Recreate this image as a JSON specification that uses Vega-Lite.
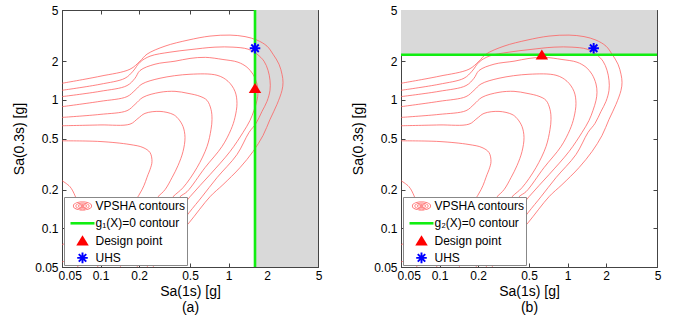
{
"$schema": "https://vega.github.io/schema/vega-lite/v6.json",
"padding": {"left": 12, "top": 3, "right": 2, "bottom": 2},
"background": "white",
"config": {
  "font": "Liberation Sans",
  "view": {"stroke": "#444", "strokeWidth": 1},
  "axis": {"grid": false, "labelFontSize": 12, "labelColor": "#000", "titleFontSize": 14, "titleFontWeight": "normal", "titleColor": "#000", "domainColor": "#444", "tickColor": "#444", "tickSize": -4, "labelPadding": 8, "labelFont": "Liberation Sans", "titleFont": "Liberation Sans"},
  "legend": {"title": null, "orient": "bottom-left", "offset": 2, "padding": 1, "fillColor": "white", "strokeColor": "#888", "symbolSize": 256, "symbolStrokeWidth": 0, "symbolOffset": 9.5, "labelOffset": 5, "labelFontSize": 12, "labelColor": "#000", "labelFont": "Liberation Sans", "rowPadding": 3.3, "symbolOpacity": 1}
},
"datasets": {
  "contours": [
    {"level":1,"i":0,"x":0.05,"y":1.345},{"level":1,"i":1,"x":0.0991,"y":1.525},{"level":1,"i":2,"x":0.1699,"y":1.73},{"level":1,"i":3,"x":0.2034,"y":1.998},{"level":1,"i":4,"x":0.2307,"y":2.266},{"level":1,"i":5,"x":0.3189,"y":2.617},{"level":1,"i":6,"x":0.4823,"y":2.915},{"level":1,"i":7,"x":0.7167,"y":3.133},{"level":1,"i":8,"x":1.027,"y":3.189},{"level":1,"i":9,"x":1.345,"y":3.104},{"level":1,"i":10,"x":1.669,"y":2.915},{"level":1,"i":11,"x":1.998,"y":2.617},{"level":1,"i":12,"x":2.226,"y":2.266},{"level":1,"i":13,"x":2.479,"y":1.893},{"level":1,"i":14,"x":2.617,"y":1.581},{"level":1,"i":15,"x":2.665,"y":1.369},{"level":1,"i":16,"x":2.617,"y":1.186},{"level":1,"i":17,"x":2.391,"y":0.9218},{"level":1,"i":18,"x":2.109,"y":0.7039},{"level":1,"i":19,"x":1.859,"y":0.5274},{"level":1,"i":20,"x":1.553,"y":0.3957},{"level":1,"i":21,"x":1.229,"y":0.2967},{"level":1,"i":22,"x":0.905,"y":0.2186},{"level":1,"i":23,"x":0.7167,"y":0.1762},{"level":1,"i":24,"x":0.4911,"y":0.1103},{"level":1,"i":25,"x":0.3489,"y":0.0743},{"level":1,"i":26,"x":0.257,"y":0.05},
    {"level":2,"i":0,"x":0.05,"y":1.186},{"level":2,"i":1,"x":0.0991,"y":1.321},{"level":2,"i":2,"x":0.1553,"y":1.472},{"level":2,"i":3,"x":0.1793,"y":1.669},{"level":2,"i":4,"x":0.2034,"y":1.962},{"level":2,"i":5,"x":0.2435,"y":2.186},{"level":2,"i":6,"x":0.3489,"y":2.349},{"level":2,"i":7,"x":0.5,"y":2.457},{"level":2,"i":8,"x":0.784,"y":2.57},{"level":2,"i":9,"x":1.084,"y":2.57},{"level":2,"i":10,"x":1.419,"y":2.479},{"level":2,"i":11,"x":1.669,"y":2.266},{"level":2,"i":12,"x":1.893,"y":1.998},{"level":2,"i":13,"x":2.034,"y":1.699},{"level":2,"i":14,"x":2.109,"y":1.419},{"level":2,"i":15,"x":2.109,"y":1.186},{"level":2,"i":16,"x":1.998,"y":0.9727},{"level":2,"i":17,"x":1.826,"y":0.8127},{"level":2,"i":18,"x":1.639,"y":0.6551},{"level":2,"i":19,"x":1.445,"y":0.5569},{"level":2,"i":20,"x":1.164,"y":0.3749},{"level":2,"i":21,"x":0.8127,"y":0.2479},{"level":2,"i":22,"x":0.6206,"y":0.1762},{"level":2,"i":23,"x":0.4911,"y":0.1321},{"level":2,"i":24,"x":0.3489,"y":0.0842},{"level":2,"i":25,"x":0.2307,"y":0.05},
    {"level":3,"i":0,"x":0.05,"y":1.059},{"level":3,"i":1,"x":0.0991,"y":1.164},{"level":3,"i":2,"x":0.161,"y":1.29},{"level":3,"i":3,"x":0.1859,"y":1.472},{"level":3,"i":4,"x":0.2034,"y":1.69},{"level":3,"i":5,"x":0.2664,"y":1.893},{"level":3,"i":6,"x":0.3818,"y":1.998},{"level":3,"i":7,"x":0.5,"y":2.1},{"level":3,"i":8,"x":0.66,"y":2.14},{"level":3,"i":9,"x":0.905,"y":2.06},{"level":3,"i":10,"x":1.186,"y":1.962},{"level":3,"i":11,"x":1.394,"y":1.793},{"level":3,"i":12,"x":1.553,"y":1.581},{"level":3,"i":13,"x":1.669,"y":1.328},{"level":3,"i":14,"x":1.699,"y":1.144},{"level":3,"i":15,"x":1.669,"y":0.9905},{"level":3,"i":16,"x":1.581,"y":0.8276},{"level":3,"i":17,"x":1.472,"y":0.6911},{"level":3,"i":18,"x":1.297,"y":0.5569},{"level":3,"i":19,"x":1.027,"y":0.3957},{"level":3,"i":20,"x":0.7167,"y":0.2617},{"level":3,"i":21,"x":0.5,"y":0.1762},{"level":3,"i":22,"x":0.3489,"y":0.1124},{"level":3,"i":23,"x":0.2435,"y":0.0703},{"level":3,"i":24,"x":0.1927,"y":0.05},
    {"level":4,"i":0,"x":0.05,"y":0.8845},{"level":4,"i":1,"x":0.0991,"y":0.9727},{"level":4,"i":2,"x":0.161,"y":1.059},{"level":4,"i":3,"x":0.1859,"y":1.186},{"level":4,"i":4,"x":0.2109,"y":1.328},{"level":4,"i":5,"x":0.2915,"y":1.472},{"level":4,"i":6,"x":0.5,"y":1.581},{"level":4,"i":7,"x":0.8127,"y":1.553},{"level":4,"i":8,"x":0.9905,"y":1.394},{"level":4,"i":9,"x":1.123,"y":1.164},{"level":4,"i":10,"x":1.164,"y":0.9384},{"level":4,"i":11,"x":1.123,"y":0.7297},{"level":4,"i":12,"x":1.046,"y":0.5879},{"level":4,"i":13,"x":0.8891,"y":0.433},{"level":4,"i":14,"x":0.6551,"y":0.2967},{"level":4,"i":15,"x":0.4738,"y":0.1927},{"level":4,"i":16,"x":0.4177,"y":0.1762},{"level":4,"i":17,"x":0.2915,"y":0.1124},{"level":4,"i":18,"x":0.1962,"y":0.0703},{"level":4,"i":19,"x":0.1419,"y":0.05},
    {"level":5,"i":0,"x":0.05,"y":0.7297},{"level":5,"i":1,"x":0.0991,"y":0.77},{"level":5,"i":2,"x":0.161,"y":0.823},{"level":5,"i":3,"x":0.1859,"y":0.9218},{"level":5,"i":4,"x":0.2147,"y":1.046},{"level":5,"i":5,"x":0.2915,"y":1.144},{"level":5,"i":6,"x":0.3818,"y":1.164},{"level":5,"i":7,"x":0.4823,"y":1.123},{"level":5,"i":8,"x":0.5986,"y":1.065},{"level":5,"i":9,"x":0.6791,"y":0.9905},{"level":5,"i":10,"x":0.7297,"y":0.8425},{"level":5,"i":11,"x":0.7429,"y":0.7039},{"level":5,"i":12,"x":0.7297,"y":0.5879},{"level":5,"i":13,"x":0.6791,"y":0.433},{"level":5,"i":14,"x":0.567,"y":0.2967},{"level":5,"i":15,"x":0.4409,"y":0.2071},{"level":5,"i":16,"x":0.3683,"y":0.1762},{"level":5,"i":17,"x":0.2435,"y":0.1124},{"level":5,"i":18,"x":0.1419,"y":0.0703},{"level":5,"i":19,"x":0.0938,"y":0.05},
    {"level":6,"i":0,"x":0.05,"y":0.6283},{"level":6,"i":1,"x":0.0991,"y":0.6374},{"level":6,"i":2,"x":0.1699,"y":0.6466},{"level":6,"i":3,"x":0.1962,"y":0.7167},{"level":6,"i":4,"x":0.2225,"y":0.784},{"level":6,"i":5,"x":0.2915,"y":0.8127},{"level":6,"i":6,"x":0.3683,"y":0.77},{"level":6,"i":7,"x":0.4029,"y":0.7167},{"level":6,"i":8,"x":0.4409,"y":0.6206},{"level":6,"i":9,"x":0.457,"y":0.509},{"level":6,"i":10,"x":0.4409,"y":0.3957},{"level":6,"i":11,"x":0.4029,"y":0.3077},{"level":6,"i":12,"x":0.3617,"y":0.2479},{"level":6,"i":13,"x":0.3189,"y":0.1998},{"level":6,"i":14,"x":0.2812,"y":0.1762},{"level":6,"i":15,"x":0.1859,"y":0.1164},{"level":6,"i":16,"x":0.1084,"y":0.0743},{"level":6,"i":17,"x":0.0655,"y":0.05},
    {"level":7,"i":0,"x":0.05,"y":0.4797},{"level":7,"i":1,"x":0.0991,"y":0.4738},{"level":7,"i":2,"x":0.1699,"y":0.4489},{"level":7,"i":3,"x":0.2147,"y":0.4254},{"level":7,"i":4,"x":0.2435,"y":0.3888},{"level":7,"i":5,"x":0.2524,"y":0.3307},{"level":7,"i":6,"x":0.2435,"y":0.2862},{"level":7,"i":7,"x":0.2349,"y":0.2617},{"level":7,"i":8,"x":0.2109,"y":0.1998},{"level":7,"i":9,"x":0.1553,"y":0.1274},{"level":7,"i":10,"x":0.0991,"y":0.0812},{"level":7,"i":11,"x":0.0632,"y":0.0599},{"level":7,"i":12,"x":0.05,"y":0.0547},
    {"level":8,"i":0,"x":0.05,"y":0.2349},{"level":8,"i":1,"x":0.0577,"y":0.2109},{"level":8,"i":2,"x":0.0632,"y":0.1793},{"level":8,"i":3,"x":0.0679,"y":0.1445},{"level":8,"i":4,"x":0.0691,"y":0.1164},{"level":8,"i":5,"x":0.0643,"y":0.0938},{"level":8,"i":6,"x":0.0577,"y":0.0812},{"level":8,"i":7,"x":0.05,"y":0.0743}
  ]
},
"spacing": 28,
"resolve": {"scale": {"x": "independent", "y": "independent", "color": "independent", "shape": "independent"}, "legend": {"color": "independent", "shape": "independent"}},
"hconcat": [
{
  "width": 256, "height": 257,
  "resolve": {"axis": {"x": "independent", "y": "independent"}},
  "layer": [
    {"data": {"values": [{"x1": 1.61, "x2": 5, "y1": 0.05, "y2": 5}]},
     "mark": {"type": "rect", "color": "#d9d9d9"},
     "encoding": {
       "x": {"field": "x1", "type": "quantitative", "scale": {"type": "log", "domain": [0.05, 5], "nice": false}, "axis": {"orient": "top", "labels": false, "title": null, "domain": false, "tickSize": -4, "values": [0.05, 0.1, 0.2, 0.5, 1, 2, 5]}},
       "x2": {"field": "x2"},
       "y": {"field": "y1", "type": "quantitative", "scale": {"type": "log", "domain": [0.05, 5], "nice": false}, "axis": {"orient": "right", "labels": false, "title": null, "domain": false, "tickSize": -4, "values": [0.05, 0.1, 0.2, 0.5, 1, 2, 5]}},
       "y2": {"field": "y2"}
     }},
    {"data": {"name": "contours"},
     "mark": {"type": "line", "stroke": "#ff5a5a", "strokeWidth": 0.75, "interpolate": "catmull-rom", "clip": true},
     "encoding": {
       "x": {"field": "x", "type": "quantitative", "axis": {"orient": "bottom", "values": [0.05, 0.1, 0.2, 0.5, 1, 2, 5], "labelExpr": "'' + datum.value", "labelFontSize": 12, "labelPadding": 7, "tickSize": -4, "labelFlush": true, "labelFlushOffset": 4, "title": ["Sa(1s) [g]", "(a)"], "titleFontSize": 14, "titleLineHeight": 16, "titlePadding": 3}},
       "y": {"field": "y", "type": "quantitative", "axis": {"orient": "left", "values": [0.05, 0.1, 0.2, 0.5, 1, 2, 5], "labelExpr": "'' + datum.value", "labelFontSize": 12, "labelPadding": 8, "tickSize": -4, "title": "Sa(0.3s) [g]", "titleFontSize": 14, "titlePadding": 8}},
       "detail": {"field": "level", "type": "nominal"},
       "order": {"field": "i", "type": "quantitative"}
     }},
    {"data": {"values": [{"g": 1.61}]},
     "mark": {"type": "rule", "stroke": "#11ee11", "strokeWidth": 2.6},
     "encoding": {"x": {"field": "g", "type": "quantitative", "axis": null}}},
    {"data": {"values": [{"x": 1.61, "y": 1.23, "series": "Design point"}, {"x": 1.61, "y": 2.52, "series": "UHS"}]},
     "mark": {"type": "point", "filled": true, "size": 256, "opacity": 1, "strokeWidth": 0},
     "encoding": {
       "x": {"field": "x", "type": "quantitative", "axis": null},
       "y": {"field": "y", "type": "quantitative", "axis": null},
       "color": {"field": "series", "type": "nominal",
         "scale": {"domain": ["VPSHA contours", "g₁(X)=0 contour", "Design point", "UHS"], "range": ["#ff6a6a", "#11ee11", "#ff0000", "#0000ff"]},
         "legend": {"title": null}},
       "shape": {"field": "series", "type": "nominal",
         "scale": {"domain": ["VPSHA contours", "g₁(X)=0 contour", "Design point", "UHS"],
           "range": [
             "M-1.2,0A1.2,0.56 0 1,1 1.2,0A1.2,0.56 0 1,1 -1.2,0ZM-1.1,0A1.1,0.46 0 1,0 1.1,0A1.1,0.46 0 1,0 -1.1,0ZM-0.88,0A0.88,0.41 0 1,1 0.88,0A0.88,0.41 0 1,1 -0.88,0ZM-0.78,0A0.78,0.31 0 1,0 0.78,0A0.78,0.31 0 1,0 -0.78,0ZM-0.56,0A0.56,0.26 0 1,1 0.56,0A0.56,0.26 0 1,1 -0.56,0ZM-0.46,0A0.46,0.16 0 1,0 0.46,0A0.46,0.16 0 1,0 -0.46,0ZM-0.26,0A0.26,0.12 0 1,1 0.26,0A0.26,0.12 0 1,1 -0.26,0ZM-0.16,0A0.16,0.03 0 1,0 0.16,0A0.16,0.03 0 1,0 -0.16,0Z",
             "M-1.5,-0.16L1.5,-0.16L1.5,0.16L-1.5,0.16Z",
             "M-0.78,0.6L0.78,0.6L0,-0.66Z",
             "M-0.66,-0.12L0.66,-0.12L0.66,0.12L-0.66,0.12ZM-0.12,-0.66L0.12,-0.66L0.12,0.66L-0.12,0.66ZM-0.382,-0.552L0.552,0.382L0.382,0.552L-0.552,-0.382ZM-0.552,0.382L0.382,-0.552L0.552,-0.382L-0.382,0.552Z"
           ]},
         "legend": {"title": null}}
     }}
  ]
},
{
  "width": 256, "height": 257,
  "resolve": {"axis": {"x": "independent", "y": "independent"}},
  "layer": [
    {"data": {"values": [{"x1": 0.05, "x2": 5, "y1": 2.24, "y2": 5}]},
     "mark": {"type": "rect", "color": "#d9d9d9"},
     "encoding": {
       "x": {"field": "x1", "type": "quantitative", "scale": {"type": "log", "domain": [0.05, 5], "nice": false}, "axis": {"orient": "top", "labels": false, "title": null, "domain": false, "tickSize": -4, "values": [0.05, 0.1, 0.2, 0.5, 1, 2, 5]}},
       "x2": {"field": "x2"},
       "y": {"field": "y1", "type": "quantitative", "scale": {"type": "log", "domain": [0.05, 5], "nice": false}, "axis": {"orient": "right", "labels": false, "title": null, "domain": false, "tickSize": -4, "values": [0.05, 0.1, 0.2, 0.5, 1, 2, 5]}},
       "y2": {"field": "y2"}
     }},
    {"data": {"name": "contours"},
     "mark": {"type": "line", "stroke": "#ff5a5a", "strokeWidth": 0.75, "interpolate": "catmull-rom", "clip": true},
     "encoding": {
       "x": {"field": "x", "type": "quantitative", "axis": {"orient": "bottom", "values": [0.05, 0.1, 0.2, 0.5, 1, 2, 5], "labelExpr": "'' + datum.value", "labelFontSize": 12, "labelPadding": 7, "tickSize": -4, "labelFlush": true, "labelFlushOffset": 4, "title": ["Sa(1s) [g]", "(b)"], "titleFontSize": 14, "titleLineHeight": 16, "titlePadding": 3}},
       "y": {"field": "y", "type": "quantitative", "axis": {"orient": "left", "values": [0.05, 0.1, 0.2, 0.5, 1, 2, 5], "labelExpr": "'' + datum.value", "labelFontSize": 12, "labelPadding": 8, "tickSize": -4, "title": "Sa(0.3s) [g]", "titleFontSize": 14, "titlePadding": 8}},
       "detail": {"field": "level", "type": "nominal"},
       "order": {"field": "i", "type": "quantitative"}
     }},
    {"data": {"values": [{"g": 2.24}]},
     "mark": {"type": "rule", "stroke": "#11ee11", "strokeWidth": 2.6},
     "encoding": {"y": {"field": "g", "type": "quantitative", "axis": null}}},
    {"data": {"values": [{"x": 0.63, "y": 2.24, "series": "Design point"}, {"x": 1.6, "y": 2.52, "series": "UHS"}]},
     "mark": {"type": "point", "filled": true, "size": 256, "opacity": 1, "strokeWidth": 0},
     "encoding": {
       "x": {"field": "x", "type": "quantitative", "axis": null},
       "y": {"field": "y", "type": "quantitative", "axis": null},
       "color": {"field": "series", "type": "nominal",
         "scale": {"domain": ["VPSHA contours", "g₂(X)=0 contour", "Design point", "UHS"], "range": ["#ff6a6a", "#11ee11", "#ff0000", "#0000ff"]},
         "legend": {"title": null}},
       "shape": {"field": "series", "type": "nominal",
         "scale": {"domain": ["VPSHA contours", "g₂(X)=0 contour", "Design point", "UHS"],
           "range": [
             "M-1.2,0A1.2,0.56 0 1,1 1.2,0A1.2,0.56 0 1,1 -1.2,0ZM-1.1,0A1.1,0.46 0 1,0 1.1,0A1.1,0.46 0 1,0 -1.1,0ZM-0.88,0A0.88,0.41 0 1,1 0.88,0A0.88,0.41 0 1,1 -0.88,0ZM-0.78,0A0.78,0.31 0 1,0 0.78,0A0.78,0.31 0 1,0 -0.78,0ZM-0.56,0A0.56,0.26 0 1,1 0.56,0A0.56,0.26 0 1,1 -0.56,0ZM-0.46,0A0.46,0.16 0 1,0 0.46,0A0.46,0.16 0 1,0 -0.46,0ZM-0.26,0A0.26,0.12 0 1,1 0.26,0A0.26,0.12 0 1,1 -0.26,0ZM-0.16,0A0.16,0.03 0 1,0 0.16,0A0.16,0.03 0 1,0 -0.16,0Z",
             "M-1.5,-0.16L1.5,-0.16L1.5,0.16L-1.5,0.16Z",
             "M-0.78,0.6L0.78,0.6L0,-0.66Z",
             "M-0.66,-0.12L0.66,-0.12L0.66,0.12L-0.66,0.12ZM-0.12,-0.66L0.12,-0.66L0.12,0.66L-0.12,0.66ZM-0.382,-0.552L0.552,0.382L0.382,0.552L-0.552,-0.382ZM-0.552,0.382L0.382,-0.552L0.552,-0.382L-0.382,0.552Z"
           ]},
         "legend": {"title": null}}
     }}
  ]
}
]
}
